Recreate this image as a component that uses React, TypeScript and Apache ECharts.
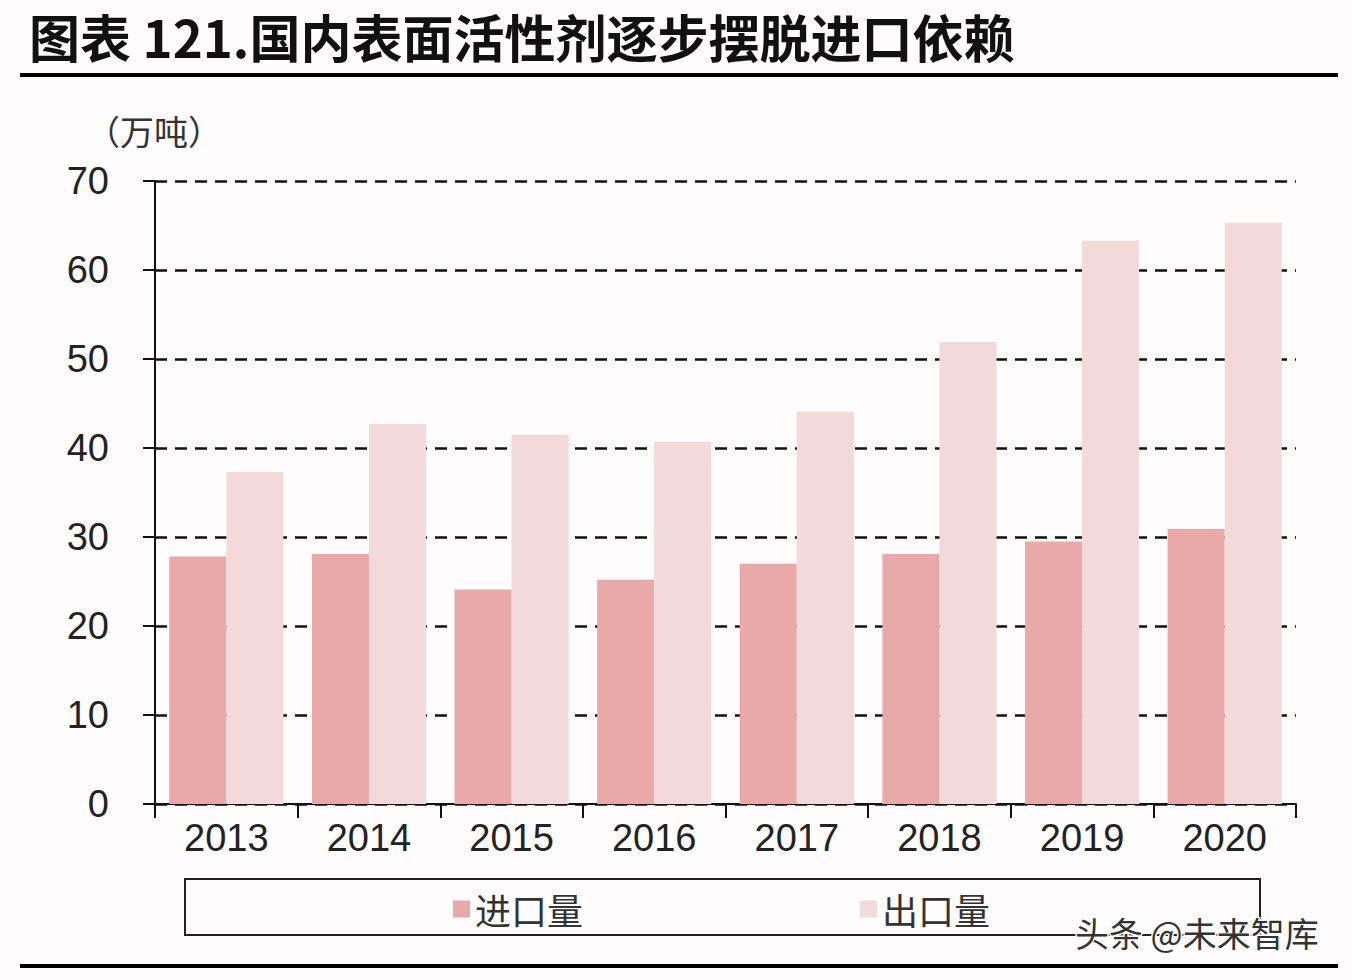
import { useEffect, useRef } from 'react'
import * as echarts from 'echarts'

const years = ['2013', '2014', '2015', '2016', '2017', '2018', '2019', '2020']
const importVol = [27.8, 28.1, 24.1, 25.2, 27.0, 28.1, 29.5, 30.9]
const exportVol = [37.3, 42.7, 41.5, 40.7, 44.1, 51.9, 63.3, 65.3]
const seriesNames = ['进口量', '出口量']

const NUM_FONT = "'Liberation Sans Narrow', 'Liberation Sans', Arial, sans-serif"
const CJK_FONT = "'Noto Sans CJK SC', sans-serif"

export default function App() {
  const chartRef = useRef<HTMLDivElement>(null)

  useEffect(() => {
    if (!chartRef.current) return
    const chart = echarts.init(chartRef.current, undefined, { renderer: 'svg' })

    const option: echarts.EChartsOption = {
      animation: false,
      backgroundColor: '#fefcfc',
      title: {
        text: '图表 121.国内表面活性剂逐步摆脱进口依赖',
        left: 24,
        top: 5,
        textStyle: {
          fontFamily: CJK_FONT,
          fontSize: 51,
          fontWeight: 'bold',
          color: '#111',
        },
      },
      grid: { left: 155, right: 56, top: 181, bottom: 176 },
      legend: {
        left: 448,
        top: 886,
        itemWidth: 17,
        itemHeight: 17,
        itemGap: 277,
        icon: 'rect',
        textStyle: { fontFamily: CJK_FONT, fontSize: 36, color: '#333' },
        data: seriesNames,
      },
      xAxis: {
        type: 'category',
        data: years,
        boundaryGap: true,
        axisLine: { lineStyle: { color: '#111', width: 2 } },
        axisTick: { show: true, length: 14, lineStyle: { color: '#111', width: 2 } },
        axisLabel: {
          fontFamily: NUM_FONT,
          fontSize: 38,
          color: '#222',
          margin: 15,
        },
        splitLine: { show: false },
      },
      yAxis: {
        type: 'value',
        min: 0,
        max: 70,
        interval: 10,
        axisLine: { show: true, lineStyle: { color: '#111', width: 2 } },
        axisTick: { show: true, length: 12, lineStyle: { color: '#111', width: 2 } },
        axisLabel: {
          fontFamily: NUM_FONT,
          fontSize: 38,
          color: '#222',
          margin: 46,
        },
        splitLine: {
          show: true,
          lineStyle: { color: '#111', width: 2.5, type: [12, 8] },
        },
      },
      series: [
        {
          name: seriesNames[0],
          type: 'bar',
          data: importVol,
          barGap: '0%',
          barCategoryGap: '20%',
          itemStyle: { color: '#e8a9a8' },
        },
        {
          name: seriesNames[1],
          type: 'bar',
          data: exportVol,
          barGap: '0%',
          barCategoryGap: '20%',
          itemStyle: { color: '#f3d9d9' },
        },
      ],
      graphic: [
        {
          type: 'rect',
          shape: { x: 20, y: 73, width: 1318, height: 4 },
          style: { fill: '#000' },
        },
        {
          type: 'rect',
          shape: { x: 20, y: 964, width: 1318, height: 4 },
          style: { fill: '#000' },
        },
        {
          type: 'text',
          x: 86,
          y: 113,
          style: {
            text: '（万吨）',
            fontFamily: CJK_FONT,
            fontSize: 34,
            fill: '#333',
          },
        },
        {
          type: 'rect',
          shape: { x: 185, y: 879, width: 1075, height: 56 },
          style: { fill: 'none', stroke: '#222', lineWidth: 2 },
        },
        {
          type: 'text',
          x: 1075,
          y: 915,
          z: 10,
          style: {
            text: '头条 @未来智库',
            fontFamily: CJK_FONT,
            fontSize: 34,
            fill: '#333',
            stroke: '#fff',
            lineWidth: 3,
          },
        },
      ],
    }

    chart.setOption(option)

    return () => {
      chart.dispose()
    }
  }, [])

  return (
    <div
      ref={chartRef}
      style={{ position: 'fixed', left: 0, top: 0, width: 1352, height: 980 }}
    />
  )
}
